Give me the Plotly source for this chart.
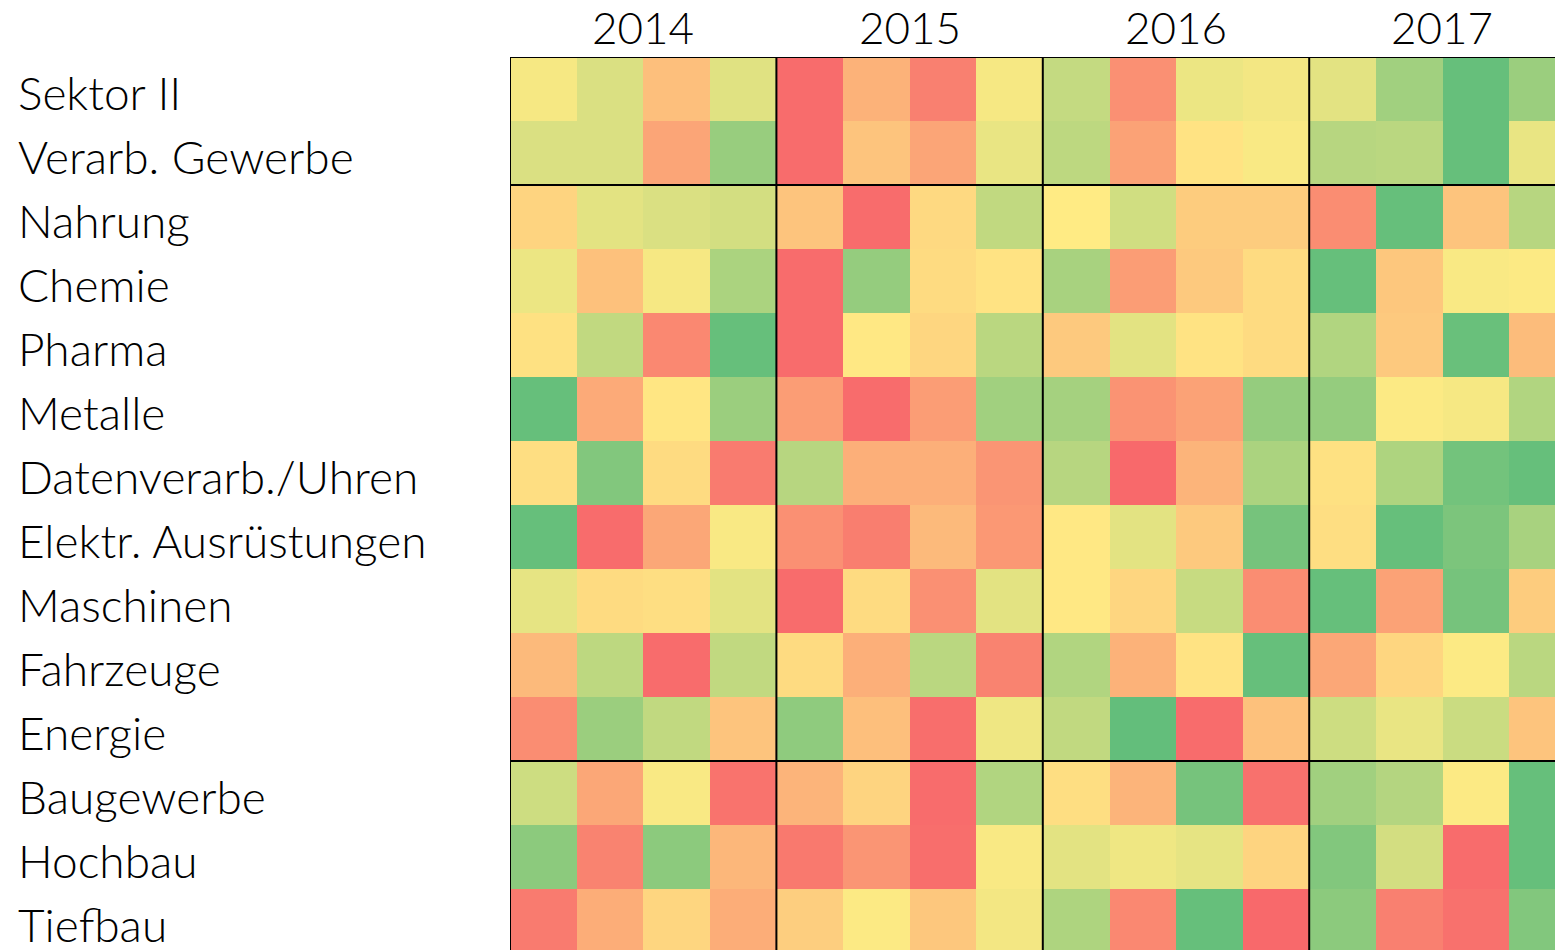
import plotly.graph_objects as go

# ---- data ----
sectors = ["Sektor II", "Verarb. Gewerbe", "Nahrung", "Chemie", "Pharma", "Metalle",
           "Datenverarb./Uhren", "Elektr. Ausrüstungen", "Maschinen", "Fahrzeuge",
           "Energie", "Baugewerbe", "Hochbau", "Tiefbau"]
years = ["2014", "2015", "2016", "2017"]
quarters = ["Q1", "Q2", "Q3", "Q4"]
group_sizes = [2, 9, 3]  # Sektor II block, Verarb. Gewerbe block, Bau block

# relative score (0 = worst/red, 0.5 = neutral/yellow, 1 = best/green)
v2014 = [
    [0.53, 0.62, 0.33, 0.60],
    [0.62, 0.62, 0.23, 0.83],
    [0.41, 0.59, 0.62, 0.64],
    [0.56, 0.34, 0.53, 0.77],
    [0.46, 0.70, 0.12, 0.99],
    [0.99, 0.25, 0.48, 0.82],
    [0.45, 0.90, 0.44, 0.07],
    [0.99, 0.01, 0.24, 0.52],
    [0.58, 0.44, 0.45, 0.59],
    [0.31, 0.71, 0.01, 0.70],
    [0.14, 0.82, 0.70, 0.35],
    [0.66, 0.24, 0.52, 0.04],
    [0.87, 0.10, 0.87, 0.30],
    [0.07, 0.26, 0.42, 0.26],
]
v2015 = [
    [0.01, 0.28, 0.09, 0.53],
    [0.01, 0.35, 0.23, 0.57],
    [0.35, 0.01, 0.43, 0.70],
    [0.01, 0.84, 0.44, 0.47],
    [0.01, 0.49, 0.42, 0.72],
    [0.20, 0.01, 0.20, 0.80],
    [0.73, 0.27, 0.27, 0.17],
    [0.15, 0.08, 0.31, 0.18],
    [0.01, 0.44, 0.15, 0.59],
    [0.44, 0.27, 0.72, 0.10],
    [0.86, 0.33, 0.02, 0.55],
    [0.29, 0.41, 0.01, 0.75],
    [0.06, 0.17, 0.02, 0.52],
    [0.39, 0.51, 0.36, 0.54],
]
v2016 = [
    [0.69, 0.15, 0.56, 0.54],
    [0.71, 0.22, 0.47, 0.52],
    [0.50, 0.65, 0.38, 0.38],
    [0.78, 0.20, 0.37, 0.44],
    [0.37, 0.59, 0.47, 0.44],
    [0.79, 0.16, 0.22, 0.84],
    [0.73, 0.00, 0.29, 0.77],
    [0.49, 0.59, 0.37, 0.94],
    [0.49, 0.42, 0.68, 0.14],
    [0.75, 0.28, 0.47, 0.99],
    [0.70, 1.00, 0.01, 0.34],
    [0.45, 0.29, 0.94, 0.03],
    [0.59, 0.55, 0.58, 0.41],
    [0.76, 0.12, 0.99, 0.00],
]
v2017 = [
    [0.59, 0.80, 0.99, 0.82],
    [0.73, 0.72, 0.99, 0.57],
    [0.14, 0.99, 0.35, 0.73],
    [0.99, 0.36, 0.52, 0.51],
    [0.75, 0.37, 0.98, 0.32],
    [0.84, 0.51, 0.53, 0.75],
    [0.46, 0.76, 0.95, 0.99],
    [0.45, 0.99, 0.92, 0.78],
    [0.99, 0.22, 0.94, 0.38],
    [0.24, 0.42, 0.51, 0.72],
    [0.66, 0.57, 0.67, 0.35],
    [0.80, 0.74, 0.51, 0.99],
    [0.90, 0.64, 0.01, 0.99],
    [0.87, 0.09, 0.03, 0.90],
]

# ---- build matrix ----
blocks = [v2014, v2015, v2016, v2017]
z = [sum((blk[i] for blk in blocks), []) for i in range(len(sectors))]
nq = len(quarters)
ncol = nq * len(years)
x_idx = list(range(ncol))
y_idx = list(range(len(sectors)))

FONT = "Lato"

fig = go.Figure(go.Heatmap(
    z=z, x=x_idx, y=y_idx,
    colorscale=[[0.0, "#F8696B"], [0.5, "#FFEB84"], [1.0, "#63BE7B"]],
    zmin=0, zmax=1, showscale=False, xgap=0, ygap=0,
    hoverinfo="skip",
))

W, H = 1555, 950
left, top = 510, 57
cell_w, cell_h = 66.6, 64.0
plot_w, plot_h = W - left, H - top

fig.update_layout(
    width=W, height=H,
    margin=dict(l=left, r=0, t=top, b=0, pad=0),
    paper_bgcolor="white", plot_bgcolor="white",
    xaxis=dict(range=[-0.5, -0.5 + plot_w / cell_w], showticklabels=False,
               showgrid=False, zeroline=False, ticks="", showline=False, fixedrange=True),
    yaxis=dict(range=[-0.5 + plot_h / cell_h, -0.5], showticklabels=False,
               showgrid=False, zeroline=False, ticks="", showline=False, fixedrange=True),
    showlegend=False,
)

# row labels
for i, name in enumerate(sectors):
    fig.add_annotation(
        x=(16 - left) / plot_w, xref="paper", y=i, yref="y",
        text=name, showarrow=False, xanchor="left", yanchor="middle",
        yshift=-3,
        font=dict(family=FONT, size=46, color="#000000", weight=300),
    )

# year labels
for k, yr in enumerate(years):
    fig.add_annotation(
        x=k * nq + (nq - 1) / 2, xref="x", y=1, yref="paper",
        text=yr, showarrow=False, xanchor="center", yanchor="bottom",
        yshift=2,
        font=dict(family=FONT, size=44, color="#000000", weight=300),
    )

# separators
line = dict(color="black", width=2)
for k in range(len(years)):
    xv = k * nq - 0.5
    fig.add_shape(type="line", xref="x", yref="paper", x0=xv, x1=xv, y0=0, y1=1, line=line)
fig.add_shape(type="line", xref="paper", yref="y", x0=0, x1=1, y0=-0.5, y1=-0.5, line=line)
acc = 0
for g in group_sizes[:-1]:
    acc += g
    fig.add_shape(type="line", xref="paper", yref="y", x0=0, x1=1,
                  y0=acc - 0.5, y1=acc - 0.5, line=line)

fig.write_html(
    "out.html",
    config={"displayModeBar": False},
    post_script="document.body.style.margin='0';document.body.style.overflow='hidden';",
)
